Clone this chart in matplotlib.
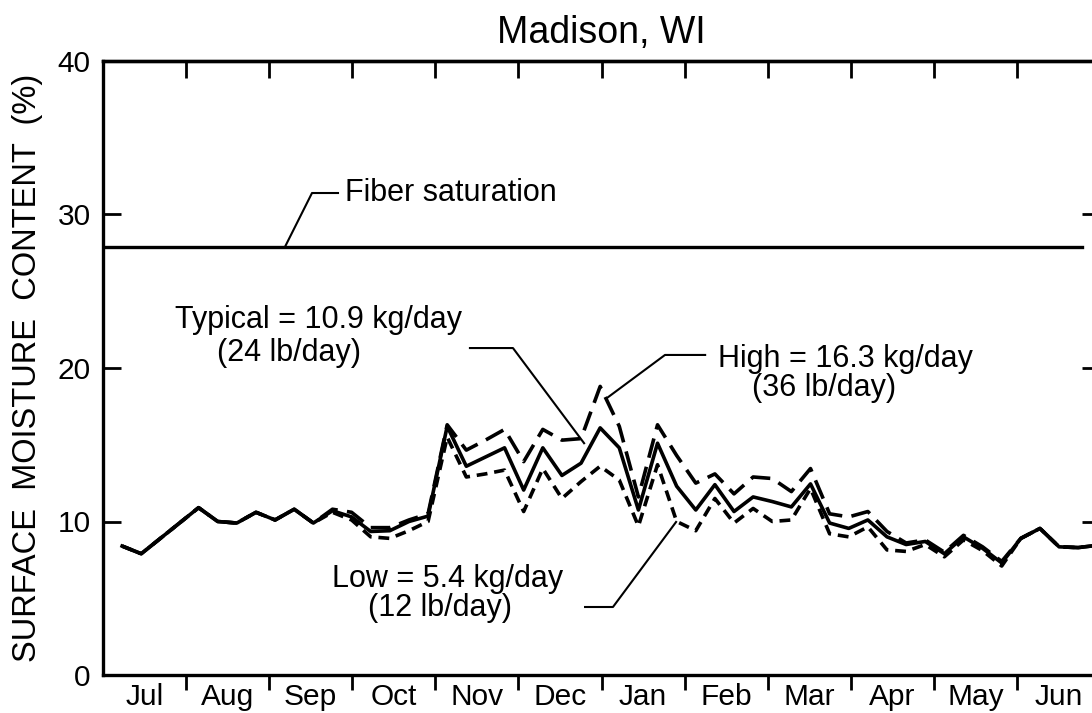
import numpy as np
import matplotlib
matplotlib.use("Agg")
import matplotlib.pyplot as plt

plt.rcParams['font.family'] = ['Liberation Sans', 'DejaVu Sans']

# ---------------- data ----------------
months = ["Jul", "Aug", "Sep", "Oct", "Nov", "Dec", "Jan", "Feb", "Mar", "Apr", "May", "Jun"]
weeks = list(range(1, 53))

typical = [8.4, 7.9, 8.9, 9.9, 10.9, 10.0, 9.9, 10.6, 10.1, 10.8, 9.9, 10.7, 10.3, 9.35, 9.4,
           10.0, 10.35, 16.2, 13.6, 14.2, 14.8, 12.05, 14.8, 13.0, 13.8, 16.1, 14.8, 10.75,
           15.1, 12.3, 10.75, 12.4, 10.65, 11.6, 11.3, 10.95, 12.45, 9.9, 9.55, 10.1, 9.0,
           8.5, 8.7, 7.9, 9.0, 8.25, 7.3, 8.9, 9.55, 8.35, 8.3, 8.45]
high = typical[:11] + [10.8, 10.6, 9.6, 9.6, 10.1, 10.5, 16.3, 14.65, 15.3, 16.0, 13.9, 16.0,
                       15.3, 15.4, 18.8, 16.2, 11.6, 16.3, 14.3, 12.5, 13.1, 11.8, 12.9, 12.8,
                       11.95, 13.45, 10.5, 10.3, 10.65, 9.35, 8.6, 8.8, 8.0, 9.1, 8.35, 7.4,
                       8.9, 9.55, 8.35, 8.3, 8.45]
low = typical[:11] + [10.6, 10.1, 9.0, 8.9, 9.4, 10.0, 15.5, 12.9, 13.1, 13.35, 10.65, 13.45,
                      11.5, 12.6, 13.6, 12.7, 9.7, 13.7, 10.0, 9.4, 11.5, 9.9, 10.85, 10.0,
                      10.1, 12.15, 9.2, 9.0, 9.65, 8.15, 8.05, 8.5, 7.7, 8.8, 8.1, 7.1,
                      8.9, 9.55, 8.35, 8.3, 8.45]
fiber_saturation = 27.9
yticks = [0, 10, 20, 30, 40]

# ---------------- figure ----------------
W, H = 1092, 713
fig = plt.figure(figsize=(W / 100, H / 100), dpi=100)
left_px, right_px, top_px, bot_px = 103, 1100, 61, 675
ax = fig.add_axes([left_px / W, (H - bot_px) / H, (right_px - left_px) / W, (bot_px - top_px) / H])

weeks_per_year = 52.14
month_w = weeks_per_year / 12
ax.set_xlim(0, weeks_per_year)
ax.set_ylim(0, 40)

lw = 2.6
ax.plot(weeks, typical, color='black', lw=lw)
ax.plot(weeks, high, color='black', lw=lw, linestyle=(0, (5.5, 2.6)))
ax.plot(weeks, low, color='black', lw=lw, linestyle=(0, (3.0, 1.9)))
ax.plot([0, 51.2], [fiber_saturation, fiber_saturation], color='black', lw=2.4)

for s in ax.spines.values():
    s.set_linewidth(2.4)

# y axis
ax.set_yticks(yticks)
ax.tick_params(axis='y', direction='in', length=13, width=2.0, right=True,
               labelsize=21.5, pad=9)

# x axis: boundaries as ticks, month names at centres
bounds = [month_w * k for k in range(1, 12)]
centres = [month_w * (k + 0.5) for k in range(12)]
ax.set_xticks(bounds)
ax.set_xticklabels([])
ax.tick_params(axis='x', which='major', direction='out', length=11, width=2.0,
               bottom=True, top=False)
ax.set_xticks(centres, minor=True)
ax.set_xticklabels(months, minor=True)
ax.tick_params(axis='x', which='minor', length=0, labelsize=21.5, pad=6)

sec = ax.secondary_xaxis('top')
sec.set_xticks(bounds)
sec.set_xticklabels([])
sec.tick_params(axis='x', direction='in', length=12, width=2.0)
sec.spines['top'].set_linewidth(2.4)

ax.set_ylabel("SURFACE  MOISTURE  CONTENT  (%)", fontsize=23.5, labelpad=10)
ax.set_title("Madison, WI", fontsize=27, pad=13)

# ---------------- annotations ----------------
fs = 22
tk = dict(color='black', lw=1.5)
# Fiber saturation
ax.plot([9.52, 10.93, 12.29], [fiber_saturation, 31.4, 31.4], **tk)
ax.text(12.66, 31.4, "Fiber saturation", fontsize=fs, ha='left', va='center')
# Typical
ax.text(3.77, 23.1, "Typical = 10.9 kg/day", fontsize=fs, ha='left', va='center')
ax.text(9.73, 21.0, "(24 lb/day)", fontsize=fs, ha='center', va='center')
ax.plot([19.19, 21.44, 25.16], [21.3, 21.3, 15.1], **tk)
# High
ax.text(32.17, 20.6, "High = 16.3 kg/day", fontsize=fs, ha='left', va='center')
ax.text(37.7, 18.7, "(36 lb/day)", fontsize=fs, ha='center', va='center')
ax.plot([31.49, 29.39, 26.36], [20.85, 20.85, 18.05], **tk)
# Low
ax.text(11.98, 6.25, "Low = 5.4 kg/day", fontsize=fs, ha='left', va='center')
ax.text(17.63, 4.36, "(12 lb/day)", fontsize=fs, ha='center', va='center')
ax.plot([25.21, 26.67, 29.97], [4.43, 4.43, 9.97], **tk)

fig.savefig("out.png", dpi=100)
